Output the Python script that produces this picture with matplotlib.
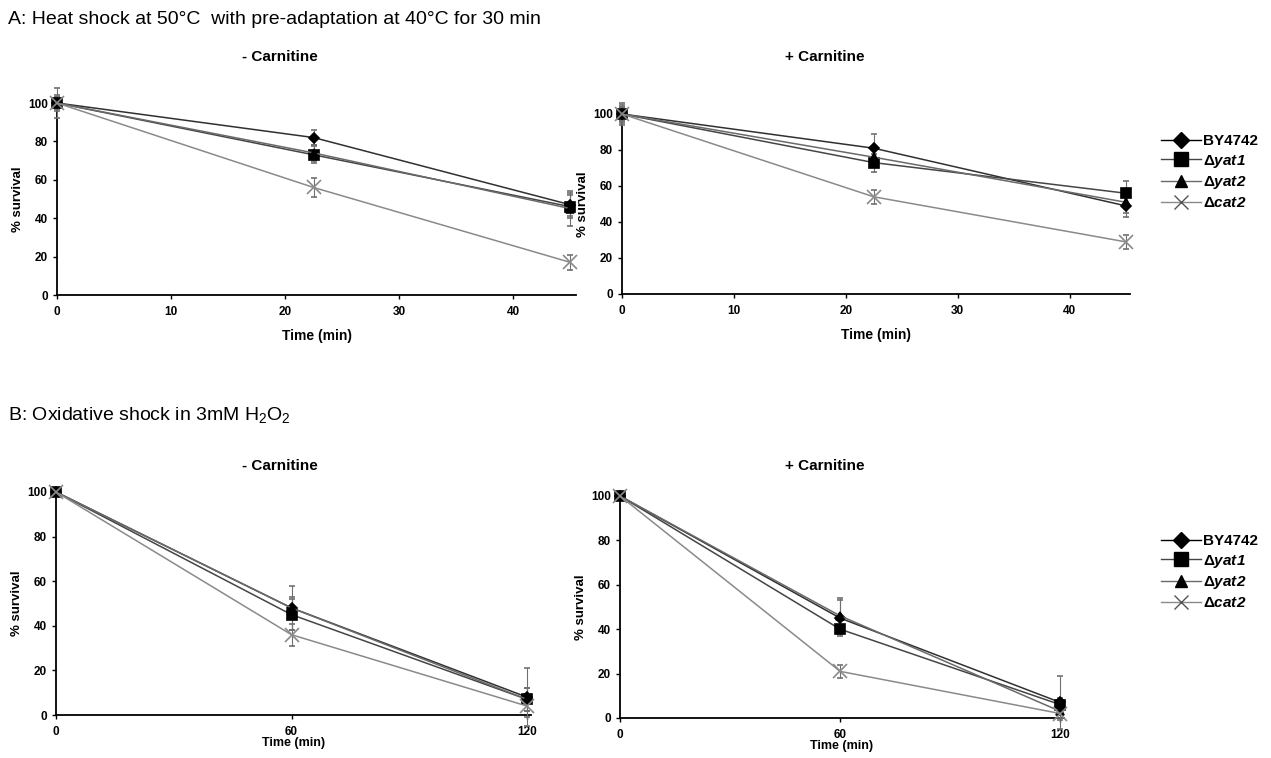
import numpy as np
import matplotlib
matplotlib.use('Agg')
import matplotlib.pyplot as plt
from matplotlib.lines import Line2D

plt.rcParams['font.family'] = ['Liberation Sans', 'DejaVu Sans']
plt.rcParams['mathtext.fontset'] = 'custom'
plt.rcParams['mathtext.it'] = 'Liberation Sans:italic:bold'
plt.rcParams['mathtext.rm'] = 'Liberation Sans:italic:bold'
plt.rcParams['mathtext.bf'] = 'Liberation Sans:bold'

strains = ['BY4742', 'yat1', 'yat2', 'cat2']
labels = ['BY4742', 'Δ$\\mathit{yat1}$', 'Δ$\\mathit{yat2}$', 'Δ$\\mathit{cat2}$']

# A: heat shock, time points (min)
time_a = [0, 22.5, 45]
heat_minus = {
    'BY4742': [100, 82, 47],
    'yat1': [100, 73, 46],
    'yat2': [100, 74, 45],
    'cat2': [100, 56, 17],
}
heat_minus_err = {
    'BY4742': [4, 4, 6],
    'yat1': [3, 4.5, 6],
    'yat2': [8, 4, 9],
    'cat2': [3, 5, 4],
}
heat_plus = {
    'BY4742': [100, 81, 49],
    'yat1': [100, 73, 56],
    'yat2': [100, 76, 51],
    'cat2': [100, 54, 29],
}
heat_plus_err = {
    'BY4742': [5, 8, 6],
    'yat1': [6, 5, 7],
    'yat2': [4, 4, 6],
    'cat2': [4, 4, 4],
}

# B: oxidative shock
time_b = [0, 60, 120]
ox_minus = {
    'BY4742': [100, 48, 8],
    'yat1': [100, 45, 7],
    'yat2': [100, 48, 7],
    'cat2': [100, 36, 4],
}
ox_minus_err = {
    'BY4742': [2, 10, 13],
    'yat1': [2, 7, 5],
    'yat2': [2, 5, 5],
    'cat2': [2, 5, 5],
}
ox_plus = {
    'BY4742': [100, 45, 7],
    'yat1': [100, 40, 6],
    'yat2': [100, 46, 3],
    'cat2': [100, 21, 2],
}
ox_plus_err = {
    'BY4742': [2, 8, 12],
    'yat1': [2, 2, 3],
    'yat2': [2, 8, 3],
    'cat2': [2, 3, 3],
}

line_colors = {'BY4742': '#303030', 'yat1': '#454545', 'yat2': '#6a6a6a', 'cat2': '#8a8a8a'}
markers = {'BY4742': 'D', 'yat1': 's', 'yat2': '^', 'cat2': 'x'}
msizes = {'BY4742': 5, 'yat1': 6.5, 'yat2': 6, 'cat2': 10}
mcolors = {'BY4742': 'black', 'yat1': 'black', 'yat2': 'black', 'cat2': '#8a8a8a'}

W, H = 1271, 758
fig = plt.figure(figsize=(W / 100, H / 100), dpi=100)


def px_axes(x0, x1, y_top, y_bot):
    return fig.add_axes([x0 / W, 1 - y_bot / H, (x1 - x0) / W, (y_bot - y_top) / H])


def draw_panel(ax, t, data, err, xmax, xticks, xlabel_pad, xlabel_size):
    for s in strains:
        ax.errorbar(t, data[s], yerr=err[s], color=line_colors[s], lw=1.1,
                    marker=markers[s], ms=msizes[s], mfc=mcolors[s], mec=mcolors[s],
                    mew=1.2, ecolor='#707070', elinewidth=0.8, capsize=2, capthick=0.8,
                    clip_on=False, zorder=3)
    ax.set_xlim(0, xmax)
    ax.set_ylim(0, 100)
    ax.set_xticks(xticks)
    ax.set_yticks([0, 20, 40, 60, 80, 100])
    for sp in ['top', 'right']:
        ax.spines[sp].set_visible(False)
    for sp in ['left', 'bottom']:
        ax.spines[sp].set_linewidth(1.3)
    ax.tick_params(labelsize=8.5, width=1, length=3)
    ax.tick_params(axis='x', pad=5)
    for lab in ax.get_xticklabels() + ax.get_yticklabels():
        lab.set_fontweight('bold')
    ax.set_ylabel('% survival', fontsize=9.5, fontweight='bold', labelpad=3)
    ax.set_xlabel('Time (min)', fontsize=xlabel_size, fontweight='bold', labelpad=xlabel_pad)


# panel A
ax1 = px_axes(57, 576, 103, 295)
draw_panel(ax1, time_a, heat_minus, heat_minus_err, 45.5, [0, 10, 20, 30, 40], 8, 10)
ax2 = px_axes(622, 1130, 114, 294)
draw_panel(ax2, time_a, heat_plus, heat_plus_err, 45.4, [0, 10, 20, 30, 40], 8, 10)

# panel B
ax3 = px_axes(56, 531, 492, 715)
draw_panel(ax3, time_b, ox_minus, ox_minus_err, 121, [0, 60, 120], -1, 9)
ax4 = px_axes(620, 1064, 496, 718)
draw_panel(ax4, time_b, ox_plus, ox_plus_err, 121, [0, 60, 120], -1, 9)

fig.text(8 / W, 1 - 20 / H, 'A: Heat shock at 50°C  with pre-adaptation at 40°C for 30 min',
         fontsize=14, va='center', ha='left')
fig.text(280 / W, 1 - 57 / H, '- Carnitine', fontsize=11, fontweight='bold', ha='center', va='center')
fig.text(825 / W, 1 - 57 / H, '+ Carnitine', fontsize=11, fontweight='bold', ha='center', va='center')
fig.text(8 / W, 1 - 415 / H, 'B: Oxidative shock in 3mM H$_\\mathregular{2}$O$_\\mathregular{2}$',
         fontsize=14, va='center', ha='left')
fig.text(280 / W, 1 - 466 / H, '- Carnitine', fontsize=11, fontweight='bold', ha='center', va='center')
fig.text(825 / W, 1 - 466 / H, '+ Carnitine', fontsize=11, fontweight='bold', ha='center', va='center')

handles = [Line2D([], [], color='black' if s == 'BY4742' else line_colors[s], lw=1,
                  marker=markers[s], ms=msizes[s] + 3 if s != 'cat2' else 10,
                  mfc='black' if s != 'cat2' else '#555555',
                  mec='black' if s != 'cat2' else '#555555', mew=1)
           for s in strains]
for yc in (172, 572):
    fig.legend(handles, labels, loc='center left', bbox_to_anchor=(1155 / W, 1 - yc / H),
               frameon=False, handlelength=2.6, handletextpad=0.15,
               labelspacing=0.3, borderaxespad=0, prop={'weight': 'bold', 'size': 11})

fig.savefig('out.png', dpi=100)
